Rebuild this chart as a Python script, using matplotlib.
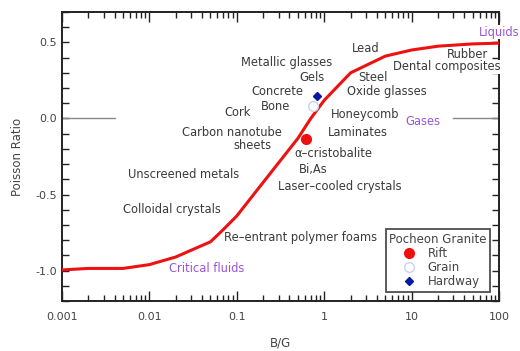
import matplotlib
matplotlib.use("Agg")
import matplotlib.pyplot as plt
from matplotlib.ticker import LogLocator, MultipleLocator, FuncFormatter, NullFormatter
from matplotlib.lines import Line2D

# Poisson ratio against bulk/shear modulus ratio
bg = [0.001, 0.002, 0.005, 0.01, 0.02, 0.05, 0.07, 0.1, 0.2, 0.5, 0.7,
      1, 2, 5, 10, 20, 50, 100]
nu = [-0.995, -0.985, -0.985, -0.96, -0.91, -0.81, -0.73, -0.64, -0.42, -0.13, 0.0,
      0.12, 0.3, 0.41, 0.45, 0.475, 0.49, 0.495]

# Pocheon granite measurements
rift_bg, rift_nu = 0.62, -0.135
grain_bg, grain_nu = 0.74, 0.08
hard_bg, hard_nu = 0.82, 0.15

# material labels: (text, B/G, nu)
materials = [
    ("Metallic glasses", 0.375, 0.37),
    ("Lead", 3.0, 0.46),
    ("Gels", 0.72, 0.27),
    ("Concrete", 0.29, 0.175),
    ("Bone", 0.28, 0.08),
    ("Cork", 0.103, 0.042),
    ("Carbon nanotube", 0.088, -0.094),
    ("sheets", 0.152, -0.175),
    ("Steel", 3.59, 0.27),
    ("Oxide glasses", 5.19, 0.18),
    ("Honeycomb", 2.93, 0.028),
    ("Laminates", 2.45, -0.09),
    ("\u03b1\u2013cristobalite", 1.27, -0.23),
    ("Bi,As", 0.75, -0.335),
    ("Laser\u2013cooled crystals", 1.52, -0.45),
    ("Unscreened metals", 0.0244, -0.37),
    ("Colloidal crystals", 0.018, -0.6),
    ("Re\u2013entrant polymer foams", 0.54, -0.78),
]
boxed = [
    ("Rubber", 43, 0.42),
    ("Dental composites", 25.2, 0.34),
]
phases = [
    ("Critical fluids", 0.0453, -0.985),
    ("Gases", 13.4, -0.02),
    ("Liquids", 100, 0.567),
]

text_c = "#3a3a3a"
purple = "#9a55d6"

fig = plt.figure(figsize=(5.2, 3.51), dpi=100)
ax = fig.add_axes([0.119, 0.142, 0.841, 0.824])

ax.plot(bg, nu, color="#ee1111", lw=2.2, zorder=3)

# zero reference stubs at both sides
ax.plot([0.001, 0.004], [0, 0], color="#888888", lw=1.0, zorder=2)
ax.plot([30, 100], [0, 0], color="#888888", lw=1.0, zorder=2)

ax.plot(rift_bg, rift_nu, "o", ms=7, color="#ee0f0f", zorder=4)
ax.plot(grain_bg, grain_nu, "o", ms=7, mfc="white", mec="#c9d2ec", mew=1.0, zorder=4)
ax.plot(hard_bg, hard_nu, "D", ms=4, color="#0a1aa0", zorder=4)

for t, x, y in materials:
    ax.text(x, y, t, fontsize=8.3, color=text_c, ha="center", va="center")
for t, x, y in boxed:
    ax.text(x, y, t, fontsize=8.3, color=text_c, ha="center", va="center",
            bbox=dict(fc="white", ec="none", pad=0.5), zorder=5)
for t, x, y in phases:
    ax.text(x, y, t, fontsize=8.3, color=purple, ha="center", va="center",
            bbox=dict(fc="white", ec="none", pad=0.5), zorder=5, clip_on=False)

ax.set_xscale("log")
ax.set_xlim(0.001, 100)
ax.set_ylim(-1.2, 0.7)

ax.xaxis.set_major_locator(LogLocator(base=10))
ax.xaxis.set_minor_locator(LogLocator(base=10, subs=range(2, 10)))
ax.xaxis.set_major_formatter(FuncFormatter(lambda v, p: "%g" % v))
ax.xaxis.set_minor_formatter(NullFormatter())
ax.yaxis.set_major_locator(MultipleLocator(0.5))
ax.yaxis.set_minor_locator(MultipleLocator(0.1))
ax.yaxis.set_major_formatter(FuncFormatter(lambda v, p: "%.1f" % v))

ax.tick_params(which="both", direction="in", top=True, right=True,
               colors="#222222", labelcolor="#444444", labelsize=8)
ax.tick_params(axis="x", which="major", length=7, width=1.0, pad=8)
ax.tick_params(axis="x", which="minor", length=4, width=1.0)
ax.tick_params(axis="y", which="both", length=5, width=1.0)
for s in ax.spines.values():
    s.set_linewidth(1.4)
    s.set_color("#222222")

ax.set_xlabel("B/G", fontsize=8.5, color="#444444", labelpad=10)
ax.set_ylabel("Poisson Ratio", fontsize=8.5, color="#444444", labelpad=8)

handles = [
    Line2D([], [], ls="none", marker="o", ms=7, color="#ee0f0f"),
    Line2D([], [], ls="none", marker="o", ms=7, mfc="white", mec="#c9d2ec"),
    Line2D([], [], ls="none", marker="D", ms=4, color="#0a1aa0"),
]
leg = ax.legend(handles, ["Rift", "Grain", "Hardway"], title="Pocheon Granite",
                loc="lower right", bbox_to_anchor=(0.993, 0.012), fontsize=8.5,
                title_fontsize=8.5, frameon=True, fancybox=False,
                handletextpad=0.5, borderpad=0.3, labelspacing=0.1,
                handlelength=2.2)
leg.get_frame().set_edgecolor("#222222")
leg.get_frame().set_linewidth(1.3)
for t in leg.get_texts():
    t.set_color("#444444")
leg.get_title().set_color("#444444")
leg.set_zorder(6)

fig.savefig("out.png", dpi=100)
